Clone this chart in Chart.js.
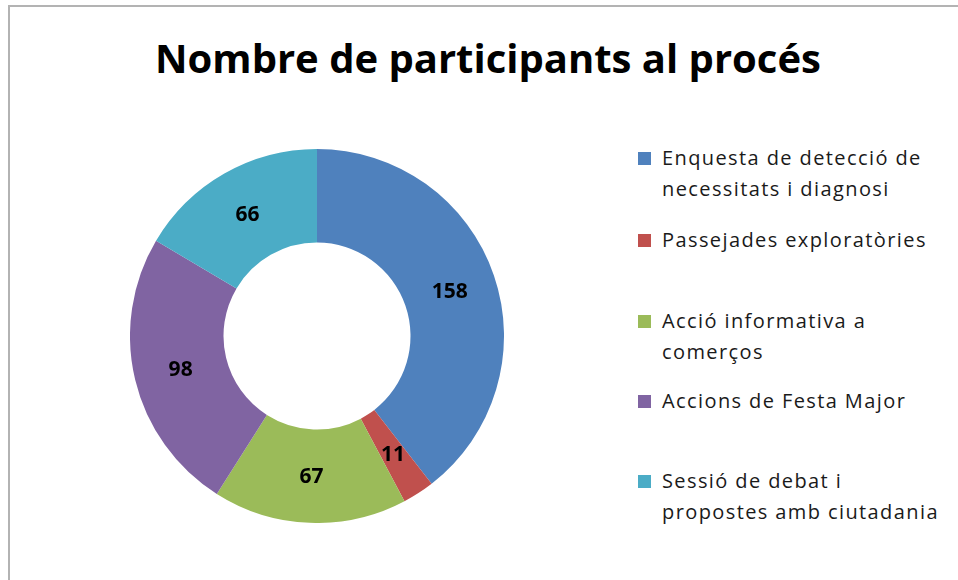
<!DOCTYPE html>
<html>
<head>
<meta charset="utf-8">
<script src="https://cdn.jsdelivr.net/npm/chart.js@4.4.1/dist/chart.umd.min.js"></script>
<style>
  html, body { margin: 0; padding: 0; background: #fff; }
  body { width: 958px; height: 580px; position: relative; overflow: hidden; font-family: "Open Sans", Lato, sans-serif; }
  .frame { position: absolute; left: 8px; top: 5px; width: 1000px; height: 650px; border-left: 2px solid #b3b3b3; border-top: 2px solid #b3b3b3; }
  #title { position: absolute; left: 0; top: 30px; width: 976px; text-align: center; font-weight: bold; font-size: 40px; color: #000; letter-spacing: 0; }
  #chartBox { position: absolute; left: 130px; top: 149px; width: 374px; height: 374px; }
  #legend { position: absolute; left: 638px; top: 0; }
  .item { position: absolute; left: 0; width: 320px; font-size: 20px; line-height: 31px; color: #1a1a1a; letter-spacing: 1.4px; }
  .item i { position: absolute; left: 0; top: 10px; width: 13px; height: 13px; }
  .item span { display: block; padding-left: 24px; white-space: nowrap; }
</style>
</head>
<body>
<div class="frame"></div>
<div id="title">Nombre de participants al procés</div>
<div id="chartBox"><canvas id="donut"></canvas></div>
<div id="legend"></div>
<script>
const categories = [
  ['Enquesta de detecció de', 'necessitats i diagnosi'],
  ['Passejades exploratòries'],
  ['Acció informativa a', 'comerços'],
  ['Accions de Festa Major'],
  ['Sessió de debat i', 'propostes amb ciutadania']
];
const participants = [158, 11, 67, 98, 66];
const colors = ['#4f81bd', '#c0504d', '#9bbb59', '#8064a2', '#4bacc6'];
const legendTops = [142, 224, 305, 385, 465];

// HTML legend built from the same arrays
const legend = document.getElementById('legend');
categories.forEach((lines, i) => {
  const div = document.createElement('div');
  div.className = 'item';
  div.style.top = legendTops[i] + 'px';
  div.innerHTML = `<i style="background:${colors[i]}"></i>` + lines.map(l => `<span>${l}</span>`).join('');
  legend.appendChild(div);
});

// value labels in the middle of each ring segment
const valueLabels = {
  id: 'valueLabels',
  afterDatasetsDraw(chart) {
    const ctx = chart.ctx;
    const meta = chart.getDatasetMeta(0);
    ctx.save();
    ctx.font = 'bold 21px "Open Sans", sans-serif';
    ctx.fillStyle = '#000';
    ctx.textAlign = 'center';
    ctx.textBaseline = 'middle';
    meta.data.forEach((arc, i) => {
      const p = arc.tooltipPosition();
      ctx.fillText(String(chart.data.datasets[0].data[i]), p.x, p.y + 1);
    });
    ctx.restore();
  }
};

new Chart(document.getElementById('donut'), {
  type: 'doughnut',
  data: {
    labels: categories.map(l => l.join(' ')),
    datasets: [{
      data: participants,
      backgroundColor: colors,
      borderWidth: 0
    }]
  },
  options: {
    responsive: true,
    maintainAspectRatio: false,
    animation: false,
    cutout: '50%',
    layout: { padding: 0 },
    plugins: {
      legend: { display: false },
      tooltip: { enabled: false }
    }
  },
  plugins: [valueLabels]
});
</script>
</body>
</html>
